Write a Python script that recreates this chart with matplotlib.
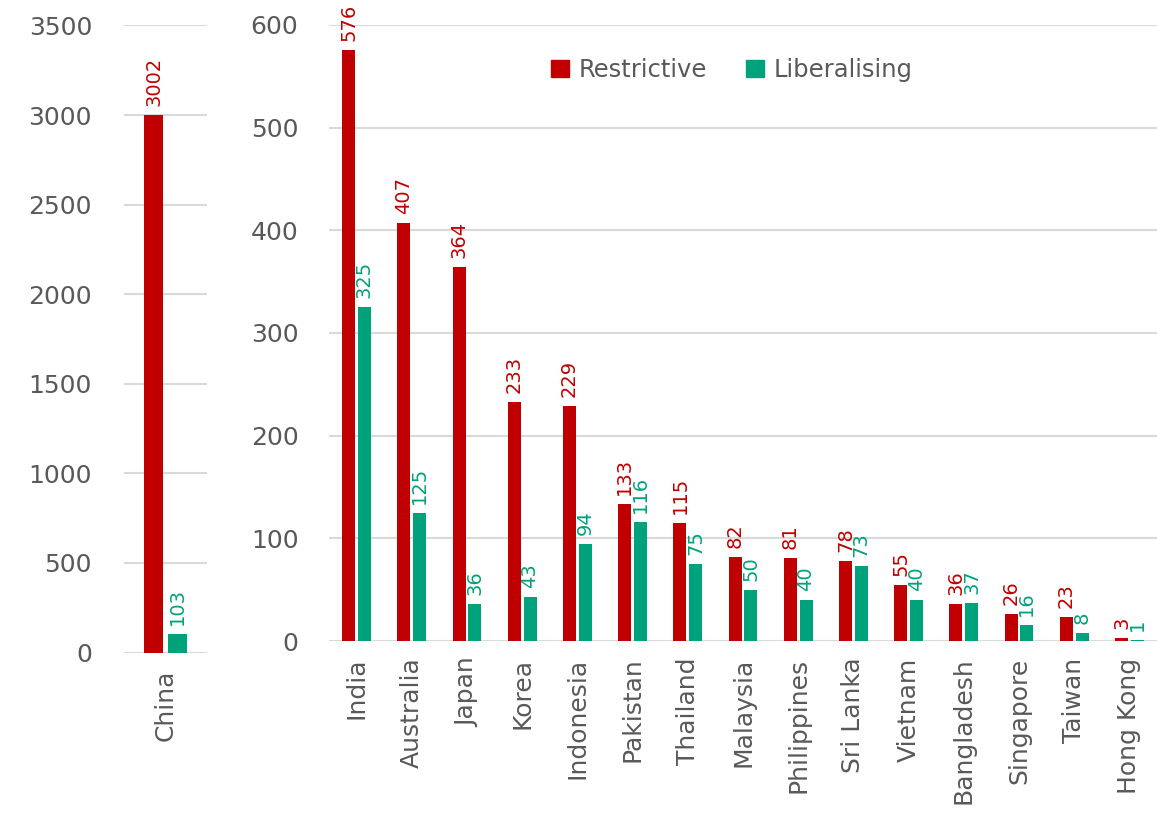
import matplotlib
matplotlib.use("Agg")
import matplotlib.pyplot as plt
from matplotlib.patches import Patch

plt.rcParams['font.family'] = ['DejaVu Sans']

# Outlier country, drawn on its own scale
big_country = ["China"]
big_restrictive = [3002]
big_liberalising = [103]

countries = ["India", "Australia", "Japan", "Korea", "Indonesia", "Pakistan",
             "Thailand", "Malaysia", "Philippines", "Sri Lanka", "Vietnam",
             "Bangladesh", "Singapore", "Taiwan", "Hong Kong"]
restrictive = [576, 407, 364, 233, 229, 133, 115, 82, 81, 78, 55, 36, 26, 23, 3]
liberalising = [325, 125, 36, 43, 94, 116, 75, 50, 40, 73, 40, 37, 16, 8, 1]

big_ticks = [0, 500, 1000, 1500, 2000, 2500, 3000, 3500]
small_ticks = [0, 100, 200, 300, 400, 500, 600]

RED = "#C00000"
GREEN = "#00A27B"
GREY = "#595959"
GRID = "#D9D9D9"

W, H = 1157, 821
fig = plt.figure(figsize=(W / 100, H / 100), dpi=100)

ax1 = fig.add_axes([124 / W, (H - 652.5) / H, 83 / W, 627 / H])
ax2 = fig.add_axes([329 / W, (H - 641) / H, 828 / W, 616 / H])

offset = 0.142
width = 0.235


def draw(ax, cats, red_vals, green_vals, ticks, label_size):
    xs = list(range(len(cats)))
    ax.bar([x - offset for x in xs], red_vals, width=width, color=RED, zorder=3)
    ax.bar([x + offset for x in xs], green_vals, width=width, color=GREEN, zorder=3)
    for x, r, g in zip(xs, red_vals, green_vals):
        ax.annotate(str(r), (x - offset, r), xytext=(0, 6.5), textcoords="offset points",
                    rotation=90, ha="center", va="bottom", color=RED, fontsize=label_size)
        ax.annotate(str(g), (x + offset, g), xytext=(0, 6.5), textcoords="offset points",
                    rotation=90, ha="center", va="bottom", color=GREEN, fontsize=label_size)
    ax.set_xlim(-0.5, len(cats) - 0.5)
    ax.set_ylim(ticks[0], ticks[-1])
    ax.set_yticks(ticks)
    ax.set_xticks(xs)
    ax.set_xticklabels(cats, rotation=90, ha="center", va="top")
    ax.grid(axis="y", color=GRID, linewidth=1.5, zorder=0)
    ax.set_axisbelow(True)
    for s in ax.spines.values():
        s.set_visible(False)
    ax.tick_params(axis="both", length=0, colors=GREY, labelsize=18)
    ax.tick_params(axis="x", pad=12)
    for lbl in ax.get_yticklabels() + ax.get_xticklabels():
        lbl.set_color(GREY)
    ax.patch.set_alpha(0)


draw(ax1, big_country, big_restrictive, big_liberalising, big_ticks, 14)
draw(ax2, countries, restrictive, liberalising, small_ticks, 14)
ax1.tick_params(axis="y", pad=23)
ax2.tick_params(axis="y", pad=22)

handles = [Patch(color=RED, label="Restrictive"), Patch(color=GREEN, label="Liberalising")]
fig.legend(handles=handles, loc="center", bbox_to_anchor=(732 / W, (H - 70) / H),
           ncol=2, frameon=False, fontsize=17.5, labelcolor=GREY,
           handlelength=0.75, handleheight=0.75, handletextpad=0.4, columnspacing=1.6)

fig.savefig("out.png", dpi=100)
